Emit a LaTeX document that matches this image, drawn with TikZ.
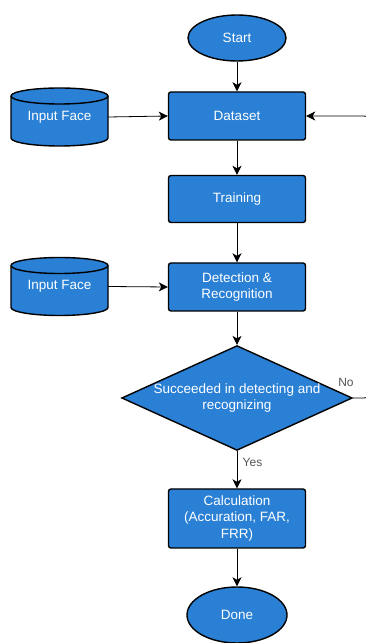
\documentclass[tikz,border=0pt]{standalone}
\usepackage{fontspec}
\setmainfont{Liberation Sans}
\usetikzlibrary{shapes.geometric,arrows.meta}
\definecolor{boxblue}{RGB}{41,128,213}
\definecolor{lblgray}{RGB}{85,85,85}
\begin{document}
\begin{tikzpicture}[x=1pt,y=1pt,
  base/.style={draw=black,line width=1.4pt,fill=boxblue,text=white,font=\fontsize{13.5}{16.5}\selectfont,align=center,inner sep=2pt},
  procbox/.style={base,rectangle,rounded corners=2.5pt,minimum width=137pt},
  term/.style={base,ellipse,minimum width=98pt,minimum height=46pt},
  decide/.style={base,diamond,minimum width=230pt,minimum height=104pt,aspect=2.2,inner sep=0pt},
  cylref/.style={minimum width=97pt,minimum height=58pt,inner sep=0pt,text=white,font=\fontsize{13.5}{16.5}\selectfont},
  conn/.style={draw=black,line width=0.8pt,-{Stealth[length=9pt,width=9pt,inset=2.5pt]}},
  lbl/.style={text=lblgray,font=\fontsize{12}{14}\selectfont}
]
\useasboundingbox (0,0) rectangle (366,643);
% cylinders (drawn shapes)
\foreach \cx/\cy in {59.5/526, 59.5/356.5}{
  \fill[boxblue,draw=black,line width=1.4pt]
    (\cx-48.5,\cy+21) -- (\cx-48.5,\cy-21)
    arc[start angle=180,end angle=360,x radius=48.5,y radius=8]
    -- (\cx+48.5,\cy+21)
    arc[start angle=0,end angle=180,x radius=48.5,y radius=8] -- cycle;
  \draw[black,line width=1.4pt] (\cx+48.5,\cy+21) arc[start angle=0,end angle=-180,x radius=48.5,y radius=8];
}
\node[cylref] (in1) at (59.5,526) {Input Face};
\node[cylref] (in2) at (59.5,356.5) {Input Face};

\node[term] (start) at (237,605) {Start};
\node[procbox,minimum height=48pt] (data) at (237,527) {Dataset};
\node[procbox,minimum height=47pt] (train) at (237,444) {Training};
\node[procbox,minimum height=48pt] (detect) at (237,356) {Detection \&\\Recognition};
\node[decide] (dec) at (237,245) {Succeeded in detecting and\\recognizing};
\node[procbox,minimum height=59pt] (calc) at (237,124.5) {Calculation\\(Accuration, FAR,\\FRR)};
\node[term,minimum width=100pt,minimum height=56pt] (done) at (237,28) {Done};

\coordinate (loopB) at (372,245);
\coordinate (loopT) at (372,527);

\draw[conn] (start) -- (data);
\draw[conn] (in1.east) -- (data.west);
\draw[conn] (data) -- (train);
\draw[conn] (train) -- (detect);
\draw[conn] (in2.east) -- (detect.west);
\draw[conn] (detect) -- (dec.north);
\draw[conn] (dec.south) -- (calc.north) node[lbl,pos=0.3,right=2pt] {Yes};
\draw[conn] (calc) -- (done);
\draw[conn,rounded corners=8pt] (dec.east) -- (loopB) -- (loopT) -- (data.east);
\node[lbl] (nolbl) at (346,261) {No};
\end{tikzpicture}
\end{document}
